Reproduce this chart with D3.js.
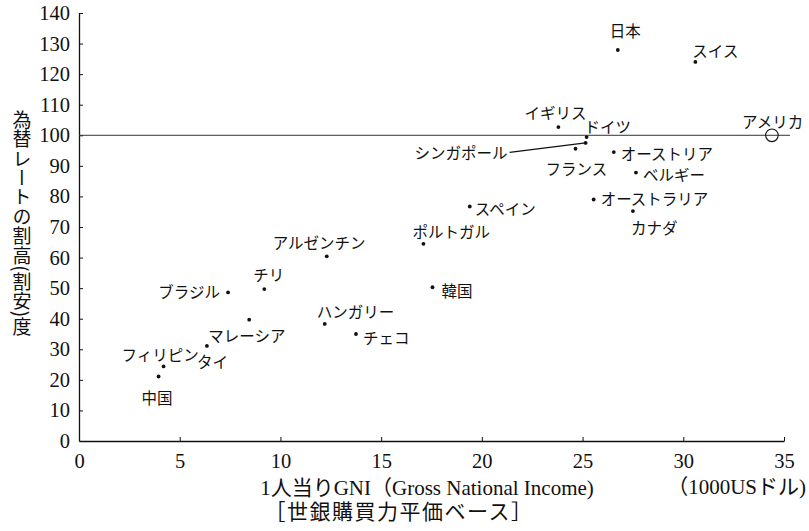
<!DOCTYPE html>
<html><head><meta charset="utf-8">
<script src="https://cdn.jsdelivr.net/npm/d3@7"></script>
<style>
html,body{margin:0;padding:0;background:#fff;}
svg{display:block;}
</style></head>
<body>
<svg id="chart" width="809" height="531"></svg>
<script>
// ---- data ----
const countries = ["日本","スイス","イギリス","ドイツ","シンガポール","フランス","オーストリア","ベルギー","オーストラリア","カナダ","アメリカ","スペイン","ポルトガル","韓国","アルゼンチン","チリ","ブラジル","ハンガリー","マレーシア","チェコ","タイ","フィリピン","中国"];
const gniPerCapita = [26.75,30.6,23.8,25.2,25.15,24.65,26.55,27.65,25.55,27.5,34.4,19.4,17.1,17.55,12.3,9.2,7.4,12.2,8.45,13.75,6.35,4.2,3.95];
const rateIndex    = [127.9,124.0,102.7,99.4,97.5,95.6,94.5,87.8,79.0,75.2,100,76.7,64.5,50.3,60.4,49.7,48.6,38.3,39.7,35.0,31.1,24.4,21.1];
const xTicks = [0,5,10,15,20,25,30,35];
const yTicks = [0,10,20,30,40,50,60,70,80,90,100,110,120,130,140];
const referenceLevel = 100;
const baseCountry = "アメリカ";

// ---- layout (label offsets in px relative to the mark) ----
const labelLayout = {
  "日本":[-8,-20,"start"], "スイス":[-3,-12,"start"], "イギリス":[-34,-15,"start"],
  "ドイツ":[-2,-11,"start"], "シンガポール":[-78,9.5,"end"], "フランス":[-30,19.5,"start"],
  "オーストリア":[7,1,"start"], "ベルギー":[7,1.7,"start"], "オーストラリア":[7,-1.7,"start"],
  "カナダ":[-2,15.5,"start"], "アメリカ":[-30,-14,"start"], "スペイン":[5,1.3,"start"],
  "ポルトガル":[-11,-13,"start"], "韓国":[9,2.6,"start"], "アルゼンチン":[-54,-14,"start"],
  "チリ":[-11,-15,"start"], "ブラジル":[-8,-1.7,"end"], "ハンガリー":[-8,-12.6,"start"],
  "マレーシア":[-41,15,"start"], "チェコ":[7,3.4,"start"], "タイ":[-10,15,"start"],
  "フィリピン":[-42,-12.4,"start"], "中国":[-17,21,"start"]
};
const leaderFrom = {"シンガポール":[-76,9.5]};

const svg = d3.select("#chart");
const x = d3.scaleLinear().domain([0,35]).range([79,784]);
const y = d3.scaleLinear().domain([0,140]).range([441,13]);

const serif = "'Liberation Serif','Noto Sans CJK JP',serif";
const jp = "'Noto Sans CJK JP',sans-serif";

// axes
const gx = svg.append("g").attr("transform",`translate(0,${y(0)})`)
  .call(d3.axisBottom(x).tickValues(xTicks).tickSizeInner(-4).tickSizeOuter(0).tickPadding(12).tickFormat(d3.format("d")));
const gy = svg.append("g").attr("transform",`translate(${x(0)},0)`)
  .call(d3.axisLeft(y).tickValues(yTicks).tickSizeInner(-4).tickSizeOuter(0).tickPadding(9).tickFormat(d3.format("d")));
[gx,gy].forEach(g=>{
  g.attr("font-family",null).attr("font-size",null);
  g.selectAll("path.domain").attr("stroke","#111").attr("stroke-width",1.3);
  g.selectAll(".tick line").attr("stroke","#111").attr("stroke-width",1);
  g.selectAll(".tick text").attr("fill","#111")
    .attr("font-family",serif).style("font-family",serif).style("font-size","20.5px");
});
gx.selectAll(".tick line").filter(d=>d===0).remove();
gy.selectAll(".tick line").filter(d=>d===0).remove();

// reference line at 100
svg.append("line")
  .attr("x1",x(0)).attr("x2",x(35.3))
  .attr("y1",y(referenceLevel)).attr("y2",y(referenceLevel))
  .attr("stroke","#333").attr("stroke-width",1);

const data = countries.map((c,i)=>({name:c,gx:gniPerCapita[i],r:rateIndex[i]}));

// leader lines
svg.selectAll("line.leader").data(data.filter(d=>leaderFrom[d.name])).join("line")
  .attr("class","leader")
  .attr("x1",d=>x(d.gx)+leaderFrom[d.name][0]).attr("y1",d=>y(d.r)+leaderFrom[d.name][1])
  .attr("x2",d=>x(d.gx)).attr("y2",d=>y(d.r))
  .attr("stroke","#111").attr("stroke-width",1.3);

// points
svg.selectAll("circle.pt").data(data.filter(d=>d.name!==baseCountry)).join("circle")
  .attr("class","pt").attr("cx",d=>x(d.gx)).attr("cy",d=>y(d.r)).attr("r",1.9).attr("fill","#111");
svg.selectAll("circle.base").data(data.filter(d=>d.name===baseCountry)).join("circle")
  .attr("class","base").attr("cx",d=>x(d.gx)).attr("cy",d=>y(d.r)).attr("r",6.3)
  .attr("fill","none").attr("stroke","#111").attr("stroke-width",1.1);

// labels
svg.selectAll("text.lbl").data(data).join("text")
  .attr("class","lbl")
  .attr("x",d=>x(d.gx)+labelLayout[d.name][0])
  .attr("y",d=>y(d.r)+labelLayout[d.name][1])
  .attr("text-anchor",d=>labelLayout[d.name][2])
  .attr("dominant-baseline","central")
  .style("font-family",jp).style("font-size","15.5px").attr("fill","#111")
  .text(d=>d.name);

// axis titles
svg.append("text")
  .attr("x",22).attr("y",110)
  .style("writing-mode","vertical-rl")
  .style("font-family",jp).style("font-size","19px").style("letter-spacing","0.4px").attr("fill","#111")
  .text("為替レートの割高(割安)度");

svg.append("text").attr("x",427).attr("y",488).attr("text-anchor","middle")
  .attr("dominant-baseline","central")
  .style("font-family",serif).style("font-size","21px").attr("fill","#111")
  .text("1人当りGNI（Gross National Income)");
svg.append("text").attr("x",399).attr("y",512).attr("text-anchor","middle")
  .attr("dominant-baseline","central")
  .style("font-family",serif).style("font-size","21px").style("letter-spacing","1.5px").attr("fill","#111")
  .text("［世銀購買力平価ベース］");
svg.append("text").attr("x",806).attr("y",487).attr("text-anchor","end")
  .attr("dominant-baseline","central")
  .style("font-family",serif).style("font-size","21px").attr("fill","#111")
  .text("（1000USドル)");
</script>
</body></html>
